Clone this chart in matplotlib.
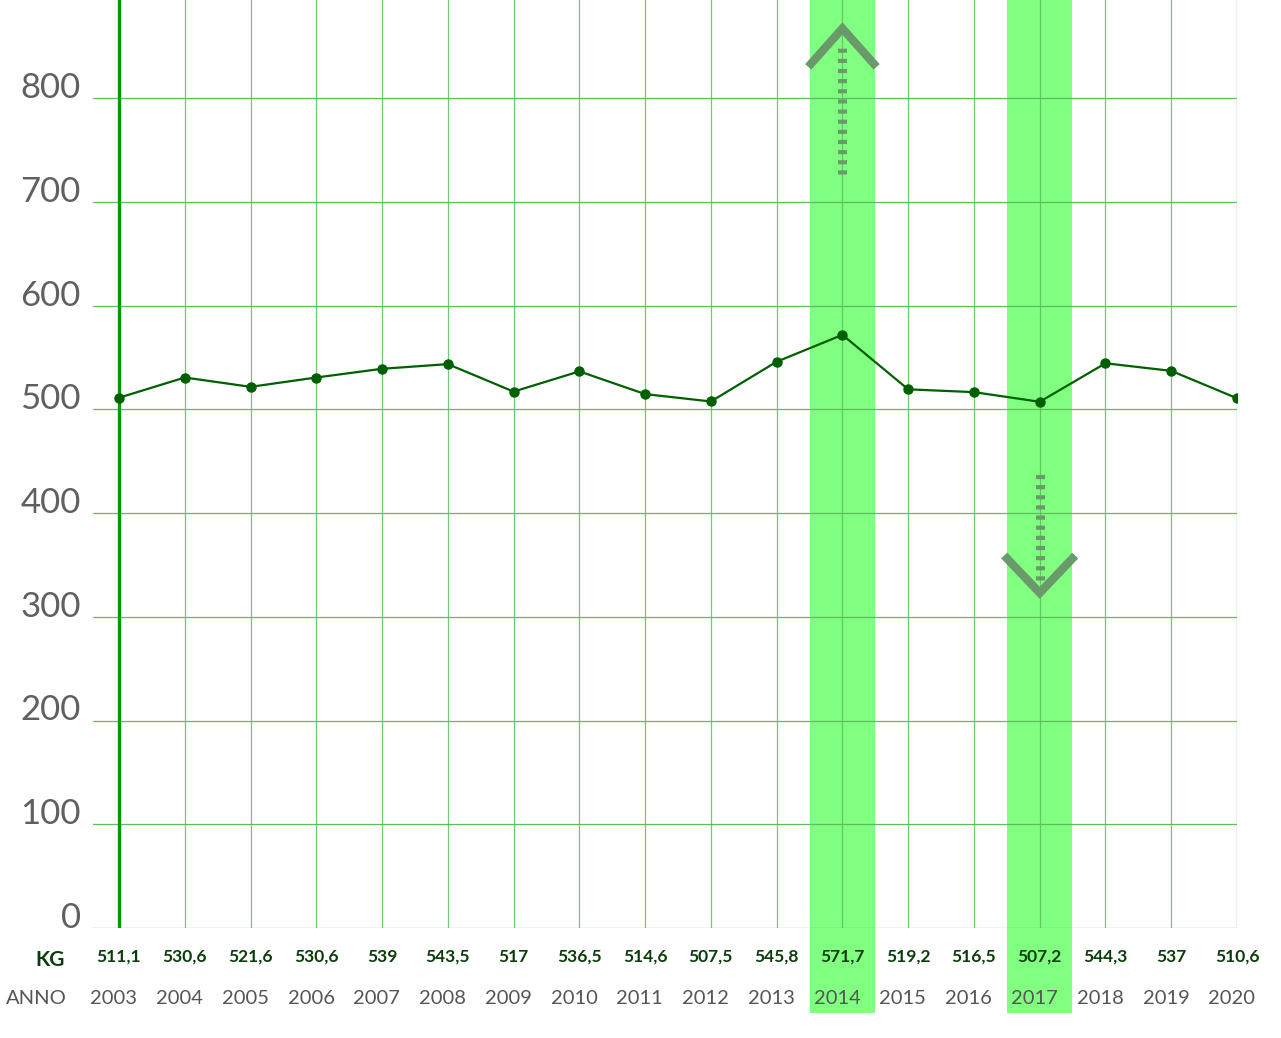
import matplotlib.pyplot as plt
from matplotlib.transforms import blended_transform_factory
from matplotlib.patches import Rectangle

plt.rcParams['lines.scale_dashes'] = False

# Data
anni = [2003, 2004, 2005, 2006, 2007, 2008, 2009, 2010, 2011, 2012,
        2013, 2014, 2015, 2016, 2017, 2018, 2019, 2020]
kg = [511.1, 530.6, 521.6, 530.6, 539, 543.5, 517, 536.5, 514.6, 507.5,
      545.8, 571.7, 519.2, 516.5, 507.2, 544.3, 537, 510.6]
kg_labels = ["511,1", "530,6", "521,6", "530,6", "539", "543,5", "517", "536,5",
             "514,6", "507,5", "545,8", "571,7", "519,2", "516,5", "507,2",
             "544,3", "537", "510,6"]
y_ticks = [0, 100, 200, 300, 400, 500, 600, 700, 800]
anno_su = 2014
anno_giu = 2017

W, H = 1281, 1038
fig = plt.figure(figsize=(W / 100, H / 100), dpi=100)
ax = fig.add_axes([93 / W, (H - 928) / H, (1237 - 93) / W, 928 / H])
ax.set_xlim(2003 - 26 / 65.76, 2020)
ax.set_ylim(0, 928 / 1.0375)
for s in ax.spines.values():
    s.set_visible(False)
ax.set_xticks([])
ax.set_yticks([])

fig_y = blended_transform_factory(ax.transData, fig.transFigure)
fig_x = blended_transform_factory(fig.transFigure, ax.transData)
band_color = '#80ff80'
for yr in (anno_su, anno_giu):
    ax.add_patch(Rectangle((yr - 0.49, (H - 1013) / H), 0.98, 1013 / H,
                           transform=fig_y, color=band_color, lw=0,
                           clip_on=False, zorder=0))

grid_c = '#5cbf5c'
for v in y_ticks:
    ax.axhline(v, color=grid_c, lw=0.9, zorder=1)
    ax.text(81 / W, v, str(v), transform=fig_x, ha='right', va='baseline',
            fontsize=25, color='#606060', family='Lato')
for yr in anni[1:]:
    ax.axvline(yr, color=grid_c, lw=0.9, alpha=0.85, zorder=1)
ax.axvline(anni[0], color='#009a00', lw=2.4, zorder=2)

ax.plot(anni, kg, color='#006000', lw=1.6, marker='o', markersize=6.5, zorder=4)

# frecce
arrow_c = '#6a9a6a'
ax.plot([anno_su, anno_su], [727, 850], color=arrow_c, lw=6.5,
        dashes=(3, 4.3), solid_capstyle='butt', dash_capstyle='butt', zorder=3)
ax.plot([anno_su - 0.52, anno_su, anno_su + 0.52], [830, 867, 830], color=arrow_c,
        lw=6, solid_joinstyle='miter', solid_capstyle='butt', zorder=3)
ax.plot([anno_giu, anno_giu], [335, 440], color=arrow_c, lw=6.5,
        dashes=(3, 4.3), solid_capstyle='butt', dash_capstyle='butt', zorder=3)
ax.plot([anno_giu - 0.54, anno_giu, anno_giu + 0.54], [359, 323, 359], color=arrow_c,
        lw=6, solid_joinstyle='miter', solid_capstyle='butt', zorder=3)

# righe in basso
for yr, lab in zip(anni, kg_labels):
    ax.text(yr, (H - 957) / H, lab, transform=fig_y, ha='center', va='center',
            fontsize=12.5, fontweight='bold', color='#0b3d0b', family='Lato')
    ax.text(yr - 0.08, (H - 998) / H, str(yr), transform=fig_y, ha='center',
            va='center', fontsize=14.5, color='#555555', family='Lato')
fig.text(50 / W, (H - 960) / H, 'KG', ha='center', va='center', fontsize=15,
         fontweight='bold', color='#0b3d0b', family='Lato')
fig.text(36 / W, (H - 998) / H, 'ANNO', ha='center', va='center', fontsize=14.5,
         color='#555555', family='Lato')

fig.savefig('out.png', dpi=100)
